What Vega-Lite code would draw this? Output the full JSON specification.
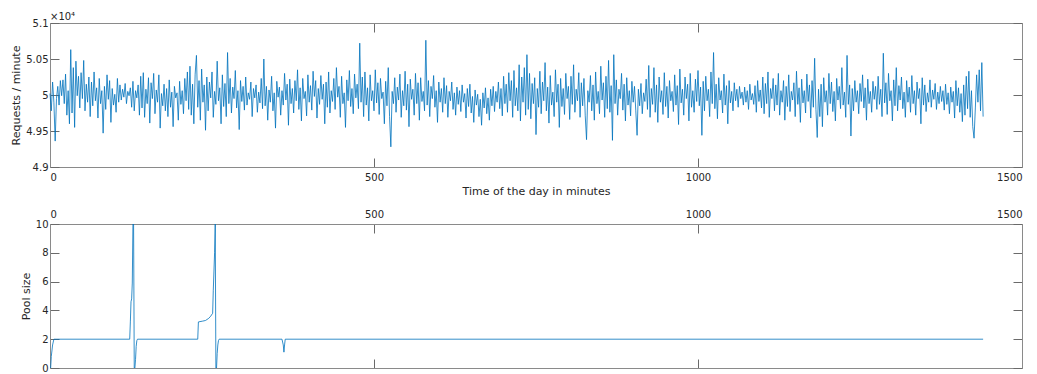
{
"$schema": "https://vega.github.io/schema/vega-lite/v6.json",
"padding": {"left": 10, "top": 12, "right": 2, "bottom": 3},
"autosize": {"type": "pad"},
"background": "white",
"bounds": "flush",
"spacing": 57,
"config": {
  "view": {"stroke": null},
  "font": "DejaVu Sans",
  "axis": {"labelFont": "DejaVu Sans", "labelFontSize": 10, "labelColor": "#262626", "titleFont": "DejaVu Sans", "titleFontSize": 11, "titleFontWeight": "normal", "titleColor": "#262626", "domainColor": "#8a8a8a", "tickColor": "#6a6a6a", "tickSize": -9, "grid": false, "domainWidth": 1, "tickWidth": 1, "labelPadding": 11, "titlePadding": 4, "format": "d"}
},
"vconcat": [
{
  "width": 972, "height": 144,
  "title": {"text": "×10⁴", "anchor": "start", "frame": "group", "fontSize": 10, "fontWeight": "normal", "color": "#262626", "font": "DejaVu Sans", "offset": -4},
  "data": {"values": [
{"t":0,"v":50020},{"t":2,"v":49780},{"t":4,"v":50180},{"t":6,"v":49900},{"t":8,"v":49360},{"t":10,"v":49950},{"t":12,"v":50120},{"t":14,"v":49860},{"t":16,"v":50200},{"t":18,"v":49990},
{"t":20,"v":50210},{"t":22,"v":49880},{"t":24,"v":50290},{"t":26,"v":49720},{"t":28,"v":50060},{"t":30,"v":49600},{"t":32,"v":50630},{"t":34,"v":49750},{"t":36,"v":50380},{"t":38,"v":49550},
{"t":40,"v":50470},{"t":42,"v":49990},{"t":44,"v":50260},{"t":46,"v":49820},{"t":48,"v":50310},{"t":50,"v":49950},{"t":52,"v":50480},{"t":54,"v":49780},{"t":56,"v":50150},{"t":58,"v":49900},
{"t":60,"v":50250},{"t":62,"v":49700},{"t":64,"v":50180},{"t":66,"v":49850},{"t":68,"v":50320},{"t":70,"v":49920},{"t":72,"v":50100},{"t":74,"v":49680},{"t":76,"v":50230},{"t":78,"v":49880},
{"t":80,"v":50060},{"t":82,"v":49470},{"t":84,"v":50120},{"t":86,"v":49800},{"t":88,"v":50280},{"t":90,"v":49940},{"t":92,"v":50200},{"t":94,"v":49620},{"t":96,"v":50090},{"t":98,"v":49860},
{"t":100,"v":50010},{"t":102,"v":49760},{"t":104,"v":50230},{"t":106,"v":49900},{"t":108,"v":50140},{"t":110,"v":49930},{"t":112,"v":50080},{"t":114,"v":49970},{"t":116,"v":50160},{"t":118,"v":49880},
{"t":120,"v":50050},{"t":122,"v":49990},{"t":124,"v":50100},{"t":126,"v":49830},{"t":128,"v":50190},{"t":130,"v":49780},{"t":132,"v":50060},{"t":134,"v":49960},{"t":136,"v":50140},{"t":138,"v":49720},
{"t":140,"v":50260},{"t":142,"v":49820},{"t":144,"v":50310},{"t":146,"v":49690},{"t":148,"v":50080},{"t":150,"v":49880},{"t":152,"v":50240},{"t":154,"v":49610},{"t":156,"v":50170},{"t":158,"v":49950},
{"t":160,"v":50300},{"t":162,"v":49740},{"t":164,"v":50070},{"t":166,"v":49900},{"t":168,"v":50280},{"t":170,"v":49540},{"t":172,"v":50020},{"t":174,"v":49850},{"t":176,"v":50150},{"t":178,"v":49780},
{"t":180,"v":50090},{"t":182,"v":49700},{"t":184,"v":50210},{"t":186,"v":49830},{"t":188,"v":50040},{"t":190,"v":49560},{"t":192,"v":50120},{"t":194,"v":49960},{"t":196,"v":50030},{"t":198,"v":49650},
{"t":200,"v":50190},{"t":202,"v":49870},{"t":204,"v":50060},{"t":206,"v":49740},{"t":208,"v":50230},{"t":210,"v":49920},{"t":212,"v":50320},{"t":214,"v":49800},{"t":216,"v":50400},{"t":218,"v":49720},
{"t":220,"v":50150},{"t":222,"v":49600},{"t":224,"v":50290},{"t":226,"v":50550},{"t":228,"v":49830},{"t":230,"v":50200},{"t":232,"v":49650},{"t":234,"v":50360},{"t":236,"v":49900},{"t":238,"v":50140},
{"t":240,"v":49510},{"t":242,"v":50250},{"t":244,"v":49780},{"t":246,"v":50180},{"t":248,"v":49960},{"t":250,"v":50320},{"t":252,"v":49690},{"t":254,"v":50050},{"t":256,"v":49870},{"t":258,"v":50470},
{"t":260,"v":49920},{"t":262,"v":50100},{"t":264,"v":49600},{"t":266,"v":50280},{"t":268,"v":49840},{"t":270,"v":50160},{"t":272,"v":49700},{"t":274,"v":50590},{"t":276,"v":49880},{"t":278,"v":50230},
{"t":280,"v":49750},{"t":282,"v":50110},{"t":284,"v":49950},{"t":286,"v":50340},{"t":288,"v":49820},{"t":290,"v":50060},{"t":292,"v":49520},{"t":294,"v":50200},{"t":296,"v":49910},{"t":298,"v":50120},
{"t":300,"v":49790},{"t":302,"v":50250},{"t":304,"v":49860},{"t":306,"v":50030},{"t":308,"v":49940},{"t":310,"v":50180},{"t":312,"v":49700},{"t":314,"v":50090},{"t":316,"v":49960},{"t":318,"v":50140},
{"t":320,"v":49760},{"t":322,"v":50040},{"t":324,"v":49890},{"t":326,"v":50230},{"t":328,"v":49810},{"t":330,"v":50500},{"t":332,"v":49850},{"t":334,"v":50120},{"t":336,"v":49650},{"t":338,"v":50070},
{"t":340,"v":49900},{"t":342,"v":50260},{"t":344,"v":49780},{"t":346,"v":50030},{"t":348,"v":49540},{"t":350,"v":50190},{"t":352,"v":49970},{"t":354,"v":50110},{"t":356,"v":49720},{"t":358,"v":50060},
{"t":360,"v":49860},{"t":362,"v":50300},{"t":364,"v":49930},{"t":366,"v":50150},{"t":368,"v":49580},{"t":370,"v":50220},{"t":372,"v":49880},{"t":374,"v":50090},{"t":376,"v":49750},{"t":378,"v":50200},
{"t":380,"v":49920},{"t":382,"v":50350},{"t":384,"v":49800},{"t":386,"v":50100},{"t":388,"v":49640},{"t":390,"v":50230},{"t":392,"v":49950},{"t":394,"v":50050},{"t":396,"v":49710},{"t":398,"v":50280},
{"t":400,"v":49900},{"t":402,"v":50130},{"t":404,"v":49790},{"t":406,"v":50330},{"t":408,"v":49980},{"t":410,"v":50200},{"t":412,"v":49680},{"t":414,"v":50090},{"t":416,"v":49870},{"t":418,"v":50270},
{"t":420,"v":49940},{"t":422,"v":50150},{"t":424,"v":49600},{"t":426,"v":50180},{"t":428,"v":49830},{"t":430,"v":50320},{"t":432,"v":49750},{"t":434,"v":50060},{"t":436,"v":49910},{"t":438,"v":50230},
{"t":440,"v":49800},{"t":442,"v":50380},{"t":444,"v":49970},{"t":446,"v":50120},{"t":448,"v":49690},{"t":450,"v":50260},{"t":452,"v":49880},{"t":454,"v":50030},{"t":456,"v":49550},{"t":458,"v":50210},
{"t":460,"v":49920},{"t":462,"v":50340},{"t":464,"v":49840},{"t":466,"v":50090},{"t":468,"v":49740},{"t":470,"v":50290},{"t":472,"v":49960},{"t":474,"v":50150},{"t":476,"v":49810},{"t":478,"v":50720},
{"t":480,"v":49900},{"t":482,"v":50250},{"t":484,"v":49700},{"t":486,"v":50320},{"t":488,"v":49860},{"t":490,"v":50100},{"t":492,"v":49640},{"t":494,"v":50280},{"t":496,"v":49920},{"t":498,"v":50060},
{"t":500,"v":49780},{"t":502,"v":50350},{"t":504,"v":49890},{"t":506,"v":50170},{"t":508,"v":49730},{"t":510,"v":50230},{"t":512,"v":49950},{"t":514,"v":50040},{"t":516,"v":49600},{"t":518,"v":50190},
{"t":520,"v":49850},{"t":522,"v":50380},{"t":524,"v":49700},{"t":526,"v":49280},{"t":528,"v":50050},{"t":530,"v":49880},{"t":532,"v":50240},{"t":534,"v":49760},{"t":536,"v":50110},{"t":538,"v":49930},
{"t":540,"v":50290},{"t":542,"v":49690},{"t":544,"v":50060},{"t":546,"v":49850},{"t":548,"v":50330},{"t":550,"v":49790},{"t":552,"v":50150},{"t":554,"v":49560},{"t":556,"v":50220},{"t":558,"v":49940},
{"t":560,"v":50080},{"t":562,"v":49720},{"t":564,"v":50300},{"t":566,"v":49880},{"t":568,"v":50170},{"t":570,"v":49650},{"t":572,"v":50240},{"t":574,"v":49910},{"t":576,"v":50050},{"t":578,"v":49780},
{"t":580,"v":50760},{"t":582,"v":49860},{"t":584,"v":50200},{"t":586,"v":49700},{"t":588,"v":50120},{"t":590,"v":49950},{"t":592,"v":50270},{"t":594,"v":49830},{"t":596,"v":50060},{"t":598,"v":49620},
{"t":600,"v":50180},{"t":602,"v":49900},{"t":604,"v":50090},{"t":606,"v":49760},{"t":608,"v":50240},{"t":610,"v":49880},{"t":612,"v":50130},{"t":614,"v":49690},{"t":616,"v":50050},{"t":618,"v":49920},
{"t":620,"v":50180},{"t":622,"v":49800},{"t":624,"v":50030},{"t":626,"v":49720},{"t":628,"v":50110},{"t":630,"v":49870},{"t":632,"v":50060},{"t":634,"v":49770},{"t":636,"v":50140},{"t":638,"v":49900},
{"t":640,"v":50020},{"t":642,"v":49680},{"t":644,"v":50090},{"t":646,"v":49840},{"t":648,"v":50150},{"t":650,"v":49750},{"t":652,"v":49980},{"t":654,"v":49620},{"t":656,"v":50070},{"t":658,"v":49860},
{"t":660,"v":50010},{"t":662,"v":49700},{"t":664,"v":49940},{"t":666,"v":49580},{"t":668,"v":50030},{"t":670,"v":49820},{"t":672,"v":50100},{"t":674,"v":49740},{"t":676,"v":49960},{"t":678,"v":49650},
{"t":680,"v":50080},{"t":682,"v":49850},{"t":684,"v":50120},{"t":686,"v":49770},{"t":688,"v":50050},{"t":690,"v":49900},{"t":692,"v":50180},{"t":694,"v":49810},{"t":696,"v":50090},{"t":698,"v":49710},
{"t":700,"v":50260},{"t":702,"v":49880},{"t":704,"v":50150},{"t":706,"v":49760},{"t":708,"v":50310},{"t":710,"v":49920},{"t":712,"v":50200},{"t":714,"v":49690},{"t":716,"v":50340},{"t":718,"v":49850},
{"t":720,"v":50100},{"t":722,"v":49780},{"t":724,"v":50420},{"t":726,"v":49640},{"t":728,"v":50250},{"t":730,"v":49900},{"t":732,"v":50380},{"t":734,"v":49720},{"t":736,"v":50560},{"t":738,"v":49800},
{"t":740,"v":50300},{"t":742,"v":49670},{"t":744,"v":50160},{"t":746,"v":49880},{"t":748,"v":50240},{"t":750,"v":49450},{"t":752,"v":50090},{"t":754,"v":49830},{"t":756,"v":50330},{"t":758,"v":49740},
{"t":760,"v":50180},{"t":762,"v":49920},{"t":764,"v":50450},{"t":766,"v":49780},{"t":768,"v":50110},{"t":770,"v":49610},{"t":772,"v":50270},{"t":774,"v":49860},{"t":776,"v":50040},{"t":778,"v":49700},
{"t":780,"v":50350},{"t":782,"v":49900},{"t":784,"v":50150},{"t":786,"v":49550},{"t":788,"v":50230},{"t":790,"v":49840},{"t":792,"v":50090},{"t":794,"v":49730},{"t":796,"v":50300},{"t":798,"v":49950},
{"t":800,"v":50120},{"t":802,"v":49660},{"t":804,"v":50260},{"t":806,"v":49870},{"t":808,"v":50420},{"t":810,"v":49760},{"t":812,"v":50080},{"t":814,"v":49920},{"t":816,"v":50310},{"t":818,"v":49690},
{"t":820,"v":50170},{"t":822,"v":49850},{"t":824,"v":50230},{"t":826,"v":49710},{"t":828,"v":49380},{"t":830,"v":50060},{"t":832,"v":49900},{"t":834,"v":50270},{"t":836,"v":49780},{"t":838,"v":50140},
{"t":840,"v":49650},{"t":842,"v":50320},{"t":844,"v":49880},{"t":846,"v":50050},{"t":848,"v":49740},{"t":850,"v":50400},{"t":852,"v":49930},{"t":854,"v":50170},{"t":856,"v":49690},{"t":858,"v":50260},
{"t":860,"v":49810},{"t":862,"v":50480},{"t":864,"v":49760},{"t":866,"v":50130},{"t":868,"v":49370},{"t":870,"v":50560},{"t":872,"v":49880},{"t":874,"v":50210},{"t":876,"v":49720},{"t":878,"v":50080},
{"t":880,"v":49950},{"t":882,"v":50300},{"t":884,"v":49790},{"t":886,"v":50150},{"t":888,"v":49640},{"t":890,"v":50240},{"t":892,"v":49860},{"t":894,"v":50060},{"t":896,"v":49710},{"t":898,"v":50190},
{"t":900,"v":49900},{"t":902,"v":50120},{"t":904,"v":49780},{"t":906,"v":49440},{"t":908,"v":50080},{"t":910,"v":49850},{"t":912,"v":50160},{"t":914,"v":49740},{"t":916,"v":50030},{"t":918,"v":49910},
{"t":920,"v":50220},{"t":922,"v":49800},{"t":924,"v":50410},{"t":926,"v":49690},{"t":928,"v":50090},{"t":930,"v":49870},{"t":932,"v":50380},{"t":934,"v":49760},{"t":936,"v":50140},{"t":938,"v":49620},
{"t":940,"v":50250},{"t":942,"v":49900},{"t":944,"v":50060},{"t":946,"v":49730},{"t":948,"v":50310},{"t":950,"v":49840},{"t":952,"v":50120},{"t":954,"v":49680},{"t":956,"v":50200},{"t":958,"v":49920},
{"t":960,"v":50050},{"t":962,"v":49770},{"t":964,"v":50280},{"t":966,"v":49860},{"t":968,"v":50130},{"t":970,"v":49590},{"t":972,"v":50360},{"t":974,"v":49890},{"t":976,"v":50080},{"t":978,"v":49720},
{"t":980,"v":50250},{"t":982,"v":49950},{"t":984,"v":50150},{"t":986,"v":49640},{"t":988,"v":50300},{"t":990,"v":49830},{"t":992,"v":50060},{"t":994,"v":49760},{"t":996,"v":50220},{"t":998,"v":49910},
{"t":1000,"v":50340},{"t":1002,"v":49850},{"t":1004,"v":50110},{"t":1006,"v":49440},{"t":1008,"v":50190},{"t":1010,"v":49780},{"t":1012,"v":50260},{"t":1014,"v":49920},{"t":1016,"v":50080},{"t":1018,"v":49700},
{"t":1020,"v":50320},{"t":1022,"v":49880},{"t":1024,"v":50590},{"t":1026,"v":49810},{"t":1028,"v":50150},{"t":1030,"v":49670},{"t":1032,"v":50240},{"t":1034,"v":49930},{"t":1036,"v":50060},{"t":1038,"v":49750},
{"t":1040,"v":50290},{"t":1042,"v":49860},{"t":1044,"v":50130},{"t":1046,"v":49600},{"t":1048,"v":50200},{"t":1050,"v":49890},{"t":1052,"v":50050},{"t":1054,"v":49780},{"t":1056,"v":50170},{"t":1058,"v":49920},
{"t":1060,"v":50080},{"t":1062,"v":49830},{"t":1064,"v":50120},{"t":1066,"v":49950},{"t":1068,"v":50040},{"t":1070,"v":49860},{"t":1072,"v":50110},{"t":1074,"v":49900},{"t":1076,"v":50060},{"t":1078,"v":49800},
{"t":1080,"v":50150},{"t":1082,"v":49930},{"t":1084,"v":50020},{"t":1086,"v":49870},{"t":1088,"v":50130},{"t":1090,"v":49760},{"t":1092,"v":50200},{"t":1094,"v":49910},{"t":1096,"v":50070},{"t":1098,"v":49820},
{"t":1100,"v":50250},{"t":1102,"v":49740},{"t":1104,"v":50160},{"t":1106,"v":49880},{"t":1108,"v":50320},{"t":1110,"v":49690},{"t":1112,"v":50090},{"t":1114,"v":49950},{"t":1116,"v":50230},{"t":1118,"v":49780},
{"t":1120,"v":50140},{"t":1122,"v":49860},{"t":1124,"v":50300},{"t":1126,"v":49720},{"t":1128,"v":50060},{"t":1130,"v":49900},{"t":1132,"v":50200},{"t":1134,"v":49650},{"t":1136,"v":50120},{"t":1138,"v":49840},
{"t":1140,"v":50280},{"t":1142,"v":49770},{"t":1144,"v":50050},{"t":1146,"v":49930},{"t":1148,"v":50170},{"t":1150,"v":49700},{"t":1152,"v":50330},{"t":1154,"v":49870},{"t":1156,"v":50100},{"t":1158,"v":49620},
{"t":1160,"v":50220},{"t":1162,"v":49890},{"t":1164,"v":50060},{"t":1166,"v":49750},{"t":1168,"v":50290},{"t":1170,"v":49910},{"t":1172,"v":50140},{"t":1174,"v":49680},{"t":1176,"v":50200},{"t":1178,"v":49830},
{"t":1180,"v":50510},{"t":1182,"v":49800},{"t":1184,"v":49410},{"t":1186,"v":50080},{"t":1188,"v":49700},{"t":1190,"v":50150},{"t":1192,"v":49560},{"t":1194,"v":50240},{"t":1196,"v":49900},{"t":1198,"v":50060},
{"t":1200,"v":49720},{"t":1202,"v":50300},{"t":1204,"v":49880},{"t":1206,"v":50180},{"t":1208,"v":49770},{"t":1210,"v":50050},{"t":1212,"v":49640},{"t":1214,"v":50230},{"t":1216,"v":49930},{"t":1218,"v":50120},
{"t":1220,"v":49810},{"t":1222,"v":50380},{"t":1224,"v":49860},{"t":1226,"v":50040},{"t":1228,"v":49690},{"t":1230,"v":50550},{"t":1232,"v":49870},{"t":1234,"v":50140},{"t":1236,"v":49430},{"t":1238,"v":50090},
{"t":1240,"v":49780},{"t":1242,"v":50200},{"t":1244,"v":49900},{"t":1246,"v":50060},{"t":1248,"v":49740},{"t":1250,"v":50160},{"t":1252,"v":49910},{"t":1254,"v":50280},{"t":1256,"v":49820},{"t":1258,"v":50100},
{"t":1260,"v":49650},{"t":1262,"v":50220},{"t":1264,"v":49880},{"t":1266,"v":50050},{"t":1268,"v":49760},{"t":1270,"v":50190},{"t":1272,"v":49940},{"t":1274,"v":50120},{"t":1276,"v":49800},{"t":1278,"v":50260},
{"t":1280,"v":49870},{"t":1282,"v":50080},{"t":1284,"v":49700},{"t":1286,"v":50580},{"t":1288,"v":49890},{"t":1290,"v":50170},{"t":1292,"v":49730},{"t":1294,"v":50300},{"t":1296,"v":49920},{"t":1298,"v":50060},
{"t":1300,"v":49640},{"t":1302,"v":50210},{"t":1304,"v":49850},{"t":1306,"v":50380},{"t":1308,"v":49780},{"t":1310,"v":50130},{"t":1312,"v":49930},{"t":1314,"v":50250},{"t":1316,"v":49810},{"t":1318,"v":50040},
{"t":1320,"v":49690},{"t":1322,"v":50200},{"t":1324,"v":49900},{"t":1326,"v":50110},{"t":1328,"v":49760},{"t":1330,"v":50270},{"t":1332,"v":49880},{"t":1334,"v":50060},{"t":1336,"v":49720},{"t":1338,"v":50180},
{"t":1340,"v":49950},{"t":1342,"v":50090},{"t":1344,"v":49600},{"t":1346,"v":50240},{"t":1348,"v":49860},{"t":1350,"v":50140},{"t":1352,"v":49770},{"t":1354,"v":50030},{"t":1356,"v":49900},{"t":1358,"v":50210},
{"t":1360,"v":49830},{"t":1362,"v":50070},{"t":1364,"v":49940},{"t":1366,"v":50160},{"t":1368,"v":49800},{"t":1370,"v":50040},{"t":1372,"v":49880},{"t":1374,"v":50120},{"t":1376,"v":49910},{"t":1378,"v":50060},
{"t":1380,"v":49790},{"t":1382,"v":50150},{"t":1384,"v":49870},{"t":1386,"v":50030},{"t":1388,"v":49740},{"t":1390,"v":50110},{"t":1392,"v":49900},{"t":1394,"v":50050},{"t":1396,"v":49680},{"t":1398,"v":50200},
{"t":1400,"v":49850},{"t":1402,"v":50100},{"t":1404,"v":49760},{"t":1406,"v":50020},{"t":1408,"v":49630},{"t":1410,"v":50140},{"t":1412,"v":49720},{"t":1414,"v":50260},{"t":1416,"v":49810},{"t":1418,"v":50330},
{"t":1420,"v":49690},{"t":1422,"v":50060},{"t":1424,"v":49560},{"t":1426,"v":49400},{"t":1428,"v":49820},{"t":1430,"v":50280},{"t":1432,"v":49900},{"t":1434,"v":50350},{"t":1436,"v":49780},{"t":1438,"v":50450},
{"t":1440,"v":49700}
  ]},
  "layer": [
    {"mark": {"type": "line", "color": "#0072BD", "strokeWidth": 0.8},
     "encoding": {
       "x": {"field": "t", "type": "quantitative", "scale": {"domain": [0, 1500], "nice": false}, "axis": {"orient": "bottom", "values": [0, 500, 1000, 1500], "title": "Time of the day in minutes", "labelPadding": 14, "titlePadding": 3}},
       "y": {"field": "v", "type": "quantitative", "scale": {"domain": [49000, 51000], "nice": false, "zero": false}, "axis": {"orient": "left", "values": [49000, 49500, 50000, 50500, 51000], "labelExpr": "format(datum.value/10000, '.3~f')", "title": "Requests / minute"}}
     }},
    {"mark": {"type": "line", "strokeOpacity": 0},
     "encoding": {
       "x": {"field": "t", "type": "quantitative", "scale": {"domain": [0, 1500], "nice": false}, "axis": {"orient": "top", "values": [0, 500, 1000, 1500], "labels": false, "title": null}},
       "y": {"field": "v", "type": "quantitative", "scale": {"domain": [49000, 51000], "nice": false, "zero": false}, "axis": {"orient": "right", "values": [49000, 49500, 50000, 50500, 51000], "labels": false, "title": null}}
     }}
  ],
  "resolve": {"axis": {"x": "independent", "y": "independent"}}
},
{
  "width": 972, "height": 144,
  "data": {"values": [
{"t":0,"p":0},{"t":1,"p":0},{"t":2,"p":0.8},{"t":4,"p":1.6},{"t":6,"p":2},{"t":123,"p":2},{"t":124,"p":3.2},{"t":125,"p":4.6},{"t":126,"p":4.8},{"t":127,"p":5.9},{"t":128,"p":10},{"t":129,"p":10},{"t":130,"p":0},{"t":131,"p":0},{"t":132,"p":0.6},{"t":133,"p":1.5},{"t":134,"p":1.9},{"t":135,"p":2},
{"t":228,"p":2},{"t":229,"p":3.2},{"t":235,"p":3.25},{"t":240,"p":3.3},{"t":245,"p":3.45},{"t":248,"p":3.6},{"t":251,"p":3.8},{"t":252,"p":5.4},{"t":254,"p":8},{"t":255,"p":10},{"t":256,"p":0},{"t":257,"p":0},{"t":258,"p":1},{"t":259,"p":1.6},{"t":260,"p":1.9},{"t":261,"p":2},
{"t":358,"p":2},{"t":360,"p":1.6},{"t":361,"p":1.1},{"t":362,"p":1.6},{"t":363,"p":2},{"t":1440,"p":2}
  ]},
  "layer": [
    {"mark": {"type": "line", "color": "#0072BD", "strokeWidth": 0.8, "clip": true},
     "encoding": {
       "x": {"field": "t", "type": "quantitative", "scale": {"domain": [0, 1500], "nice": false}, "axis": {"orient": "top", "values": [0, 500, 1000, 1500], "title": null, "labelPadding": 14}},
       "y": {"field": "p", "type": "quantitative", "scale": {"domain": [0, 10], "nice": false}, "axis": {"orient": "left", "values": [0, 2, 4, 6, 8, 10], "title": "Pool size"}}
     }},
    {"mark": {"type": "line", "strokeOpacity": 0},
     "encoding": {
       "x": {"field": "t", "type": "quantitative", "scale": {"domain": [0, 1500], "nice": false}, "axis": {"orient": "bottom", "values": [0, 500, 1000, 1500], "labels": false, "title": null}},
       "y": {"field": "p", "type": "quantitative", "scale": {"domain": [0, 10], "nice": false}, "axis": {"orient": "right", "values": [0, 2, 4, 6, 8, 10], "labels": false, "title": null}}
     }}
  ],
  "resolve": {"axis": {"x": "independent", "y": "independent"}}
}
]
}
